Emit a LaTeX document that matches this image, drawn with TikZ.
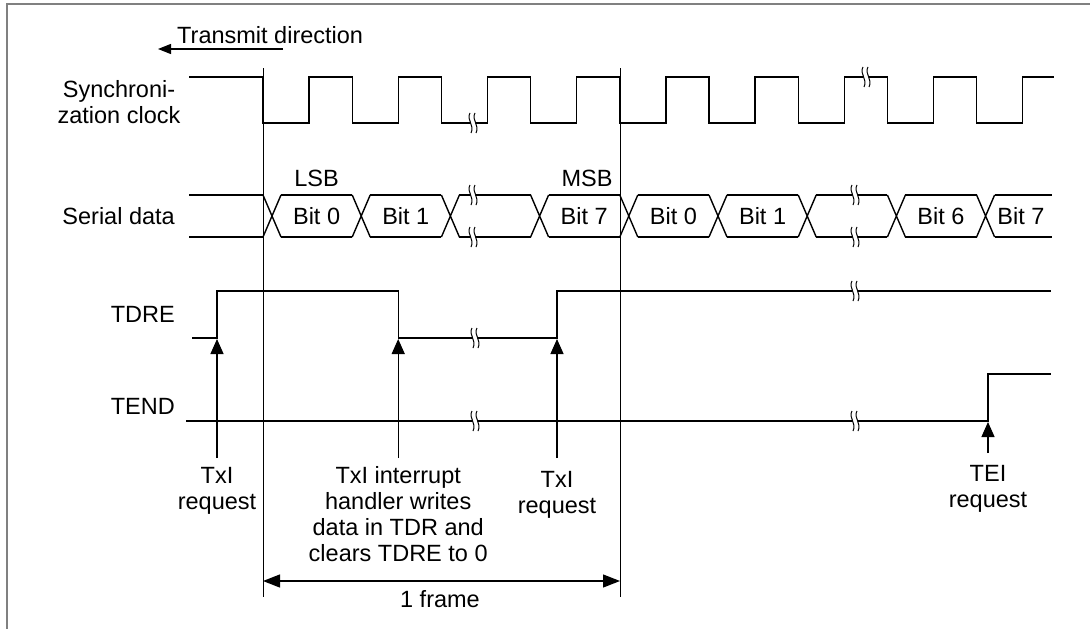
\documentclass[tikz,border=0pt]{standalone}
\usepackage{fontspec}
\setmainfont{Liberation Sans}
\usetikzlibrary{arrows.meta}
\begin{document}
\begin{tikzpicture}[x=1pt,y=-1pt,
  sig/.style={line width=1.4pt, line join=miter},
  thin/.style={line width=1pt},
  lbl/.style={font=\fontsize{23.5}{26}\selectfont, inner sep=0pt},
  tip/.style={line width=1.3pt, -{Triangle[width=13pt,length=15pt]}},
  brk/.pic={
    \fill[white] (-4,-9) -- (1,-9) -- (4,9) -- (-1,9) -- cycle;
    \draw[line width=1pt] (-3,-10) .. controls (-7,-3) and (2,2) .. (-2,10);
    \draw[line width=1pt] (2,-10) .. controls (-2,-3) and (7,2) .. (3,10);
  }]
\useasboundingbox (0,0) rectangle (1090,629);
% frame
\draw[line width=2pt, gray] (7,629) -- (7,4) -- (1090,4);

% transmit direction
\node[lbl, anchor=base west] (tdir) at (177,43) {Transmit direction};
\coordinate (tdA) at (283,49);
\coordinate (tdB) at (158,49);
\draw[line width=1.2pt, -{Triangle[width=10pt,length=13pt]}] (tdA) -- (tdB);

% signal names
\node[lbl, anchor=base, align=center] (nclk) at (119,123) {Synchroni-\\zation clock};
\node[lbl, anchor=base east] (nser) at (175,224) {Serial data};
\node[lbl, anchor=base east] (ntdre) at (175,322) {TDRE};
\node[lbl, anchor=base east] (ntend) at (175,414) {TEND};

% frame boundary lines
\coordinate (v1t) at (263,68); \coordinate (v1b) at (263,597);
\coordinate (v2t) at (620,68); \coordinate (v2b) at (620,597);
\draw[thin] (v1t) -- (v1b);
\draw[thin] (v2t) -- (v2b);

% clock
\draw[sig] (189,77) -- (263,77) -- (263,123) -- (309,123) -- (309,77)
  -- (352.2,77) -- (352.2,123) -- (398.2,123) -- (398.2,77)
  -- (441.4,77) -- (441.4,123) -- (487.4,123) -- (487.4,77)
  -- (530.6,77) -- (530.6,123) -- (576.6,123) -- (576.6,77)
  -- (619.8,77) -- (619.8,123) -- (665.8,123) -- (665.8,77)
  -- (709,77) -- (709,123) -- (755,123) -- (755,77)
  -- (798.2,77) -- (798.2,123) -- (844.2,123) -- (844.2,77)
  -- (887.4,77) -- (887.4,123) -- (933.4,123) -- (933.4,77)
  -- (976.6,77) -- (976.6,123) -- (1022.6,123) -- (1022.6,77) -- (1054,77);
\pic at (473,123) {brk};
\pic at (866,77) {brk};

% serial data
\foreach \f in {263,352.2,441.4,530.6,619.8,709,798.2,887.4,976.6} {
  \draw[sig] (\f,195) -- (\f+18,237) (\f,237) -- (\f+18,195);
}
\foreach \a/\b in {189/263, 281/352.2, 370.2/441.4, 459.4/530.6, 548.6/619.8,
  637.8/709, 727/798.2, 816.2/887.4, 905.4/976.6, 994.6/1052} {
  \draw[sig] (\a,195) -- (\b,195) (\a,237) -- (\b,237);
}
\pic at (473,195) {brk};
\pic at (473,237) {brk};
\pic at (855,195) {brk};
\pic at (855,237) {brk};
\node[lbl, anchor=base] (b0) at (316.6,224) {Bit 0};
\node[lbl, anchor=base] (b1) at (405.8,224) {Bit 1};
\node[lbl, anchor=base] (b7) at (584.2,224) {Bit 7};
\node[lbl, anchor=base] (c0) at (673.4,224) {Bit 0};
\node[lbl, anchor=base] (c1) at (762.6,224) {Bit 1};
\node[lbl, anchor=base] (c6) at (941,224) {Bit 6};
\node[lbl, anchor=base] (c7) at (1021,224) {Bit 7};
\node[lbl, anchor=base] (lsb) at (316.6,186) {LSB};
\node[lbl, anchor=base] (msb) at (587,186) {MSB};

% TDRE
\draw[sig] (192,338) -- (217,338) -- (217,291) -- (398.2,291) -- (398.2,338)
  -- (557,338) -- (557,291) -- (1051,291);
\pic at (475,338) {brk};
\pic at (855,291) {brk};

% TEND
\draw[sig] (186,421) -- (988,421) -- (988,374) -- (1051,374);
\pic at (475,421) {brk};
\pic at (855,421) {brk};

% request arrows
\coordinate (r1b) at (217,458); \coordinate (r1t) at (217,339);
\coordinate (r2b) at (398.2,458); \coordinate (r2t) at (398.2,339);
\coordinate (r3b) at (557,458); \coordinate (r3t) at (557,339);
\coordinate (r4b) at (988,453); \coordinate (r4t) at (988,422);
\draw[tip] (r1b) -- (r1t);
\draw[tip] (r2b) -- (r2t);
\draw[tip] (r3b) -- (r3t);
\draw[tip] (r4b) -- (r4t);

% bottom labels
\node[lbl, anchor=base, align=center] (txi1) at (217,509) {TxI\\request};
\node[lbl, anchor=base, align=center] (hnd) at (398.2,561) {TxI interrupt\\handler writes\\data in TDR and\\clears TDRE to 0};
\node[lbl, anchor=base, align=center] (txi2) at (557,513) {TxI\\request};
\node[lbl, anchor=base, align=center] (tei) at (988,507) {TEI\\request};

% 1 frame
\coordinate (fL) at (263,581); \coordinate (fR) at (620,581);
\draw[line width=1.3pt, {Triangle[width=13pt,length=17pt]}-{Triangle[width=13pt,length=17pt]}] (fL) -- (fR);
\node[lbl, anchor=base] (frm) at (440,607) {1 frame};
\end{tikzpicture}
\end{document}
